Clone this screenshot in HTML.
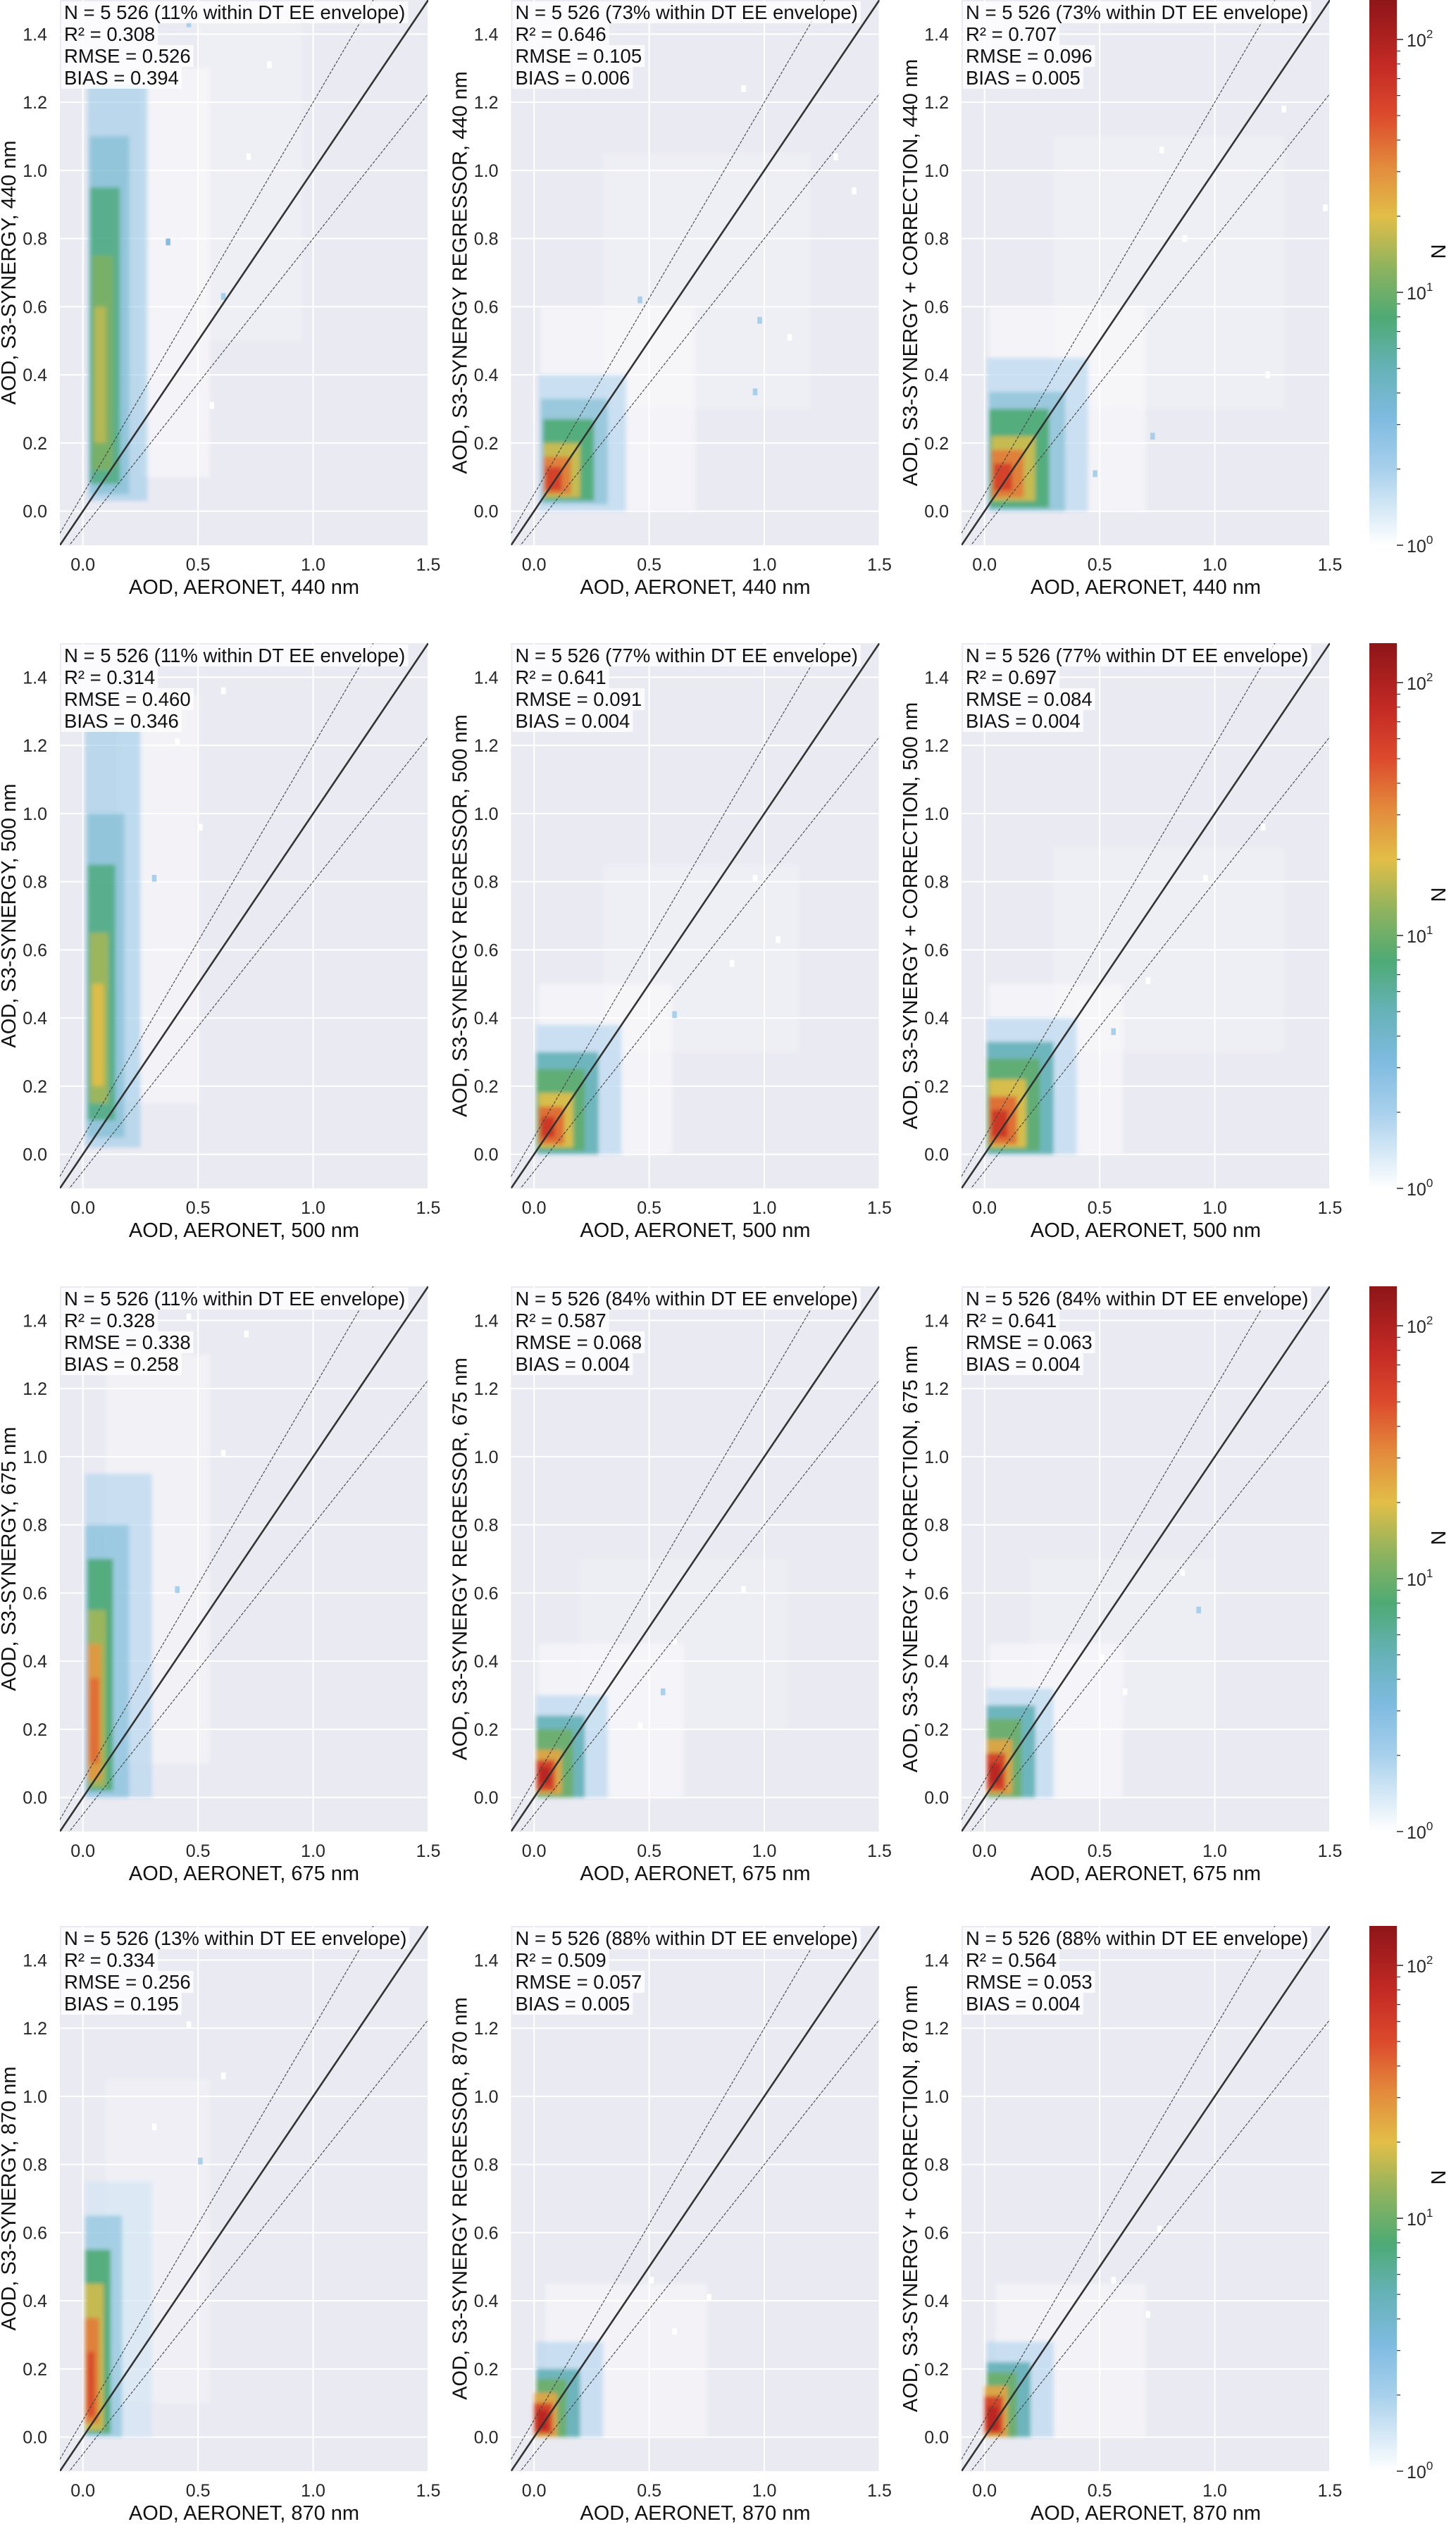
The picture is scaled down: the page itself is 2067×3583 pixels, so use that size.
<!DOCTYPE html>
<html><head><meta charset="utf-8"><style>
html,body{margin:0;padding:0;background:#fff;}
svg{display:block;font-family:"Liberation Sans",Arial,sans-serif;}
</style></head>
<body>
<svg id="fig" width="2067" height="3583" viewBox="0 0 2067 3583" xmlns="http://www.w3.org/2000/svg"></svg>
<script>
// ---------- data ----------
const wavelengths = ["440", "500", "675", "870"];
const yLabelPrefixes = ["AOD, S3-SYNERGY", "AOD, S3-SYNERGY REGRESSOR", "AOD, S3-SYNERGY + CORRECTION"];
const xTicks = [0.0, 0.5, 1.0, 1.5];
const yTicks = [0.0, 0.2, 0.4, 0.6, 0.8, 1.0, 1.2, 1.4];
const cbarMajor = [1, 10, 100];
const cbarMajorLabels = ["0", "1", "2"];
const envPct = [["11%","73%","73%"],["11%","77%","77%"],["11%","84%","84%"],["13%","88%","88%"]];
const r2Vals = [["0.308","0.646","0.707"],["0.314","0.641","0.697"],["0.328","0.587","0.641"],["0.334","0.509","0.564"]];
const rmseVals = [["0.526","0.105","0.096"],["0.460","0.091","0.084"],["0.338","0.068","0.063"],["0.256","0.057","0.053"]];
const biasVals = [["0.394","0.006","0.005"],["0.346","0.004","0.004"],["0.258","0.004","0.004"],["0.195","0.005","0.004"]];
// density regions per panel: [x0, x1, y0, y1, count]
const regions = [
 [
  [[0.25,0.55,0.1,1.3,0.35],[0.5,0.95,0.5,1.45,0.15],[0.02,0.28,0.03,1.25,2.5],[0.03,0.2,0.05,1.1,4],[0.03,0.16,0.08,0.95,7],[0.04,0.13,0.12,0.75,11],[0.05,0.1,0.2,0.6,16]],
  [[0.3,1.2,0.3,1.05,0.15],[0.03,0.7,0.0,0.6,0.35],[0.02,0.4,0.0,0.4,2],[0.03,0.32,0.02,0.33,4],[0.04,0.26,0.03,0.27,8],[0.04,0.2,0.04,0.2,18],[0.04,0.16,0.05,0.16,35],[0.05,0.12,0.06,0.13,60]],
  [[0.3,1.3,0.3,1.1,0.15],[0.02,0.7,0.0,0.6,0.35],[0.01,0.45,0.0,0.45,2],[0.02,0.35,0.0,0.35,4],[0.02,0.28,0.01,0.3,8],[0.03,0.22,0.03,0.22,18],[0.03,0.17,0.04,0.18,35],[0.04,0.12,0.06,0.14,60]]
 ],
 [
  [[0.15,0.5,0.15,1.35,0.3],[0.01,0.25,0.02,1.25,2.5],[0.02,0.18,0.05,1.0,4],[0.02,0.14,0.1,0.85,7],[0.03,0.11,0.15,0.65,14],[0.04,0.09,0.2,0.5,20]],
  [[0.3,1.15,0.3,0.85,0.15],[0.02,0.6,0.0,0.5,0.35],[0.01,0.38,0.0,0.38,2],[0.01,0.28,0.0,0.3,5],[0.01,0.22,0.01,0.25,9],[0.02,0.17,0.02,0.18,20],[0.02,0.13,0.03,0.14,40],[0.03,0.09,0.05,0.11,70]],
  [[0.3,1.3,0.3,0.9,0.15],[0.02,0.6,0.0,0.5,0.35],[0.01,0.4,0.0,0.4,2],[0.01,0.3,0.0,0.33,5],[0.01,0.24,0.01,0.28,9],[0.02,0.18,0.02,0.22,20],[0.02,0.14,0.03,0.17,40],[0.03,0.1,0.05,0.13,70]]
 ],
 [
  [[0.1,0.55,0.1,1.3,0.25],[0.01,0.3,0.0,0.95,2],[0.01,0.2,0.0,0.8,3.5],[0.02,0.13,0.02,0.7,8],[0.02,0.1,0.03,0.55,14],[0.02,0.08,0.05,0.45,28],[0.03,0.07,0.1,0.35,40]],
  [[0.2,1.1,0.2,0.7,0.12],[0.02,0.65,0.0,0.45,0.35],[0.01,0.32,0.0,0.3,2],[0.01,0.22,0.0,0.24,5],[0.01,0.17,0.0,0.2,10],[0.01,0.12,0.01,0.14,25],[0.01,0.09,0.02,0.11,60],[0.02,0.07,0.04,0.09,90]],
  [[0.2,1.0,0.2,0.7,0.12],[0.02,0.6,0.0,0.45,0.35],[0.01,0.3,0.0,0.32,2],[0.01,0.22,0.0,0.27,5],[0.01,0.16,0.0,0.23,10],[0.01,0.12,0.01,0.17,25],[0.01,0.09,0.02,0.13,60],[0.02,0.07,0.04,0.1,90]]
 ],
 [
  [[0.1,0.55,0.1,1.05,0.2],[0.01,0.3,0.0,0.75,1.5],[0.01,0.17,0.0,0.65,3.5],[0.01,0.12,0.01,0.55,8],[0.01,0.09,0.02,0.45,18],[0.01,0.07,0.04,0.35,35],[0.02,0.05,0.06,0.25,55]],
  [[0.05,0.75,0.0,0.45,0.3],[0.01,0.3,0.0,0.28,2],[0.01,0.2,0.0,0.2,5],[0.01,0.14,0.0,0.17,10],[0.0,0.1,0.0,0.13,25],[0.0,0.08,0.01,0.1,60],[0.01,0.06,0.02,0.08,90]],
  [[0.05,0.7,0.0,0.45,0.3],[0.01,0.3,0.0,0.28,2],[0.01,0.2,0.0,0.22,5],[0.01,0.14,0.0,0.19,10],[0.0,0.1,0.0,0.15,25],[0.0,0.08,0.01,0.12,60],[0.01,0.06,0.02,0.09,90]]
 ]
];
// sparse single bins per panel: [x, y, count]
const sparse = [
 [[[0.45,1.42,2],[0.62,1.45,1],[0.8,1.3,1],[0.36,0.78,3],[0.6,0.62,2],[0.55,0.3,1],[0.71,1.03,1]],
  [[0.9,1.23,1],[1.3,1.03,1],[0.45,0.61,2],[0.97,0.55,2],[1.1,0.5,1],[0.95,0.34,2],[1.38,0.93,1]],
  [[0.76,1.05,1],[1.29,1.17,1],[0.86,0.79,1],[0.47,0.1,2],[0.72,0.21,2],[1.22,0.39,1],[1.47,0.88,1]]],
 [[[0.4,1.2,1],[0.6,1.35,1],[0.3,0.8,2],[0.5,0.95,1]],
  [[0.95,0.8,1],[1.05,0.62,1],[0.6,0.4,2],[0.85,0.55,1]],
  [[1.2,0.95,1],[0.95,0.8,1],[0.7,0.5,1],[0.55,0.35,2]]],
 [[[0.45,1.4,1],[0.7,1.35,1],[0.4,0.6,2],[0.6,1.0,1]],
  [[0.9,0.6,1],[0.6,0.45,1],[0.55,0.3,2],[0.45,0.2,1]],
  [[0.92,0.54,2],[0.85,0.65,1],[0.5,0.4,1],[0.6,0.3,1]]],
 [[[0.45,1.2,1],[0.6,1.05,1],[0.5,0.8,2],[0.3,0.9,1]],
  [[0.75,0.4,1],[0.6,0.3,1],[0.5,0.45,1]],
  [[0.75,0.6,1],[0.55,0.45,1],[0.7,0.35,1]]]
];
</script>
<script>
const NS = "http://www.w3.org/2000/svg";
const svg = document.getElementById("fig");
function mk(tag, attrs, parent) {
  const e = document.createElementNS(NS, tag);
  for (const k in attrs) e.setAttribute(k, attrs[k]);
  (parent || svg).appendChild(e);
  return e;
}
const colLefts = [85, 725.5, 1365];
const rowTops = [0, 913, 1826, 2734];
const PW = 523, PH = 774;
const XMIN = -0.1, XMAX = 1.5, YMIN = -0.1, YMAX = 1.5;
const CMAX = 2.156;
const stops = [[0,[255,255,255]],[0.3,[168,208,236]],[0.5,[127,187,224]],[0.7,[102,178,184]],[0.9,[78,170,117]],[1.1,[143,179,94]],[1.3,[226,190,72]],[1.5,[227,138,60]],[1.7,[220,74,44]],[1.9,[195,42,36]],[2.156,[142,21,24]]];
function cmap(c) {
  let t = Math.log10(Math.max(c, 1));
  if (t <= 0) return "rgb(255,255,255)";
  for (let i = 1; i < stops.length; i++) {
    if (t <= stops[i][0]) {
      const a = stops[i-1], b = stops[i], f = (t - a[0]) / (b[0] - a[0]);
      const rgb = a[1].map((v, j) => Math.round(v + (b[1][j] - v) * f));
      return "rgb(" + rgb.join(",") + ")";
    }
  }
  return "rgb(142,21,24)";
}
const defs = mk("defs", {});
const blur = mk("filter", {id:"soft", x:"-10%", y:"-10%", width:"120%", height:"120%"}, defs);
mk("feGaussianBlur", {stdDeviation:3}, blur);
for (let r = 0; r < 4; r++) {
  for (let c = 0; c < 3; c++) {
    const L = colLefts[c], T = rowTops[r];
    const sx = v => L + (v - XMIN) / (XMAX - XMIN) * PW;
    const sy = v => T + PH - (v - YMIN) / (YMAX - YMIN) * PH;
    const g = mk("g", {});
    
    
    const bg = mk("rect", {x:L, y:T, width:PW, height:PH, fill:"#eaeaf2"}, g);
    
    
    const cp = mk("clipPath", {id:"cp"+r+c}, defs);
    mk("rect", {x:L, y:T, width:PW, height:PH}, cp);
    xTicks.forEach(v => {
      const gl = mk("line", {x1:sx(v), x2:sx(v), y1:T, y2:T+PH, stroke:"#fff", "stroke-width":2}, g);
      
      
      const tl = mk("text", {x:sx(v), y:T+PH+36, "font-size":25, fill:"#262626", "text-anchor":"middle"}, g);
      tl.textContent = v.toFixed(1);
      
      
    });
    yTicks.forEach(v => {
      const gl = mk("line", {x1:L, x2:L+PW, y1:sy(v), y2:sy(v), stroke:"#fff", "stroke-width":2}, g);
      
      
      const tl = mk("text", {x:L-18, y:sy(v)+9, "font-size":25, fill:"#262626", "text-anchor":"end"}, g);
      tl.textContent = v.toFixed(1);
      
      
    });
    const hc = mk("g", {"clip-path":"url(#cp"+r+c+")"}, g);
    const hg = mk("g", {filter:"url(#soft)"}, hc);
    
    
    regions[r][c].forEach(d => {
      const cnt = d[4];
      let op = cnt < 1 ? cnt * 1.3 : (cnt < 5 ? 0.55 : 0.92);
      const rc = mk("rect", {x:sx(d[0]), y:sy(d[3]), width:sx(d[1])-sx(d[0]), height:sy(d[2])-sy(d[3]),
        fill: cnt < 1 ? "#ffffff" : cmap(cnt), "fill-opacity": op}, hg);
      
      
    });
    sparse[r][c].forEach(d => {
      const rc = mk("rect", {x:sx(d[0]), y:sy(d[1]+0.02), width:sx(0.02)-sx(0), height:sy(0)-sy(0.02), fill:cmap(d[2])}, hc);
      
      
    });
    const lg = mk("g", {"clip-path":"url(#cp"+r+c+")"}, g);
    const one = mk("line", {x1:sx(-0.1), y1:sy(-0.1), x2:sx(1.5), y2:sy(1.5), stroke:"#333", "stroke-width":2.6}, lg);
    
    
    const up = mk("line", {x1:sx(-0.1), y1:sy(1.15*-0.1+0.05), x2:sx(1.5), y2:sy(1.15*1.5+0.05), stroke:"#444", "stroke-width":1.1, "stroke-dasharray":"4,2"}, lg);
    
    
    const lo = mk("line", {x1:sx(-0.1), y1:sy(0.85*-0.1-0.05), x2:sx(1.5), y2:sy(0.85*1.5-0.05), stroke:"#444", "stroke-width":1.1, "stroke-dasharray":"4,2"}, lg);
    
    
    const lines = ["N = 5 526 (" + envPct[r][c] + " within DT EE envelope)", "R\u00b2 = " + r2Vals[r][c], "RMSE = " + rmseVals[r][c], "BIAS = " + biasVals[r][c]];
    const names = ['stats-n-envelope', 'stats-r2', 'stats-rmse', 'stats-bias'];
    lines.forEach((s, i) => {
      const by = T + 27 + i * 31;
      const box = mk("rect", {x:L+2, y:by-25, width:100, height:31, fill:"#fff", "fill-opacity":0.8}, g);
      
      
      const t = mk("text", {x:L+6, y:by, "font-size":27.5, fill:"#111"}, g);
      t.textContent = s;
      
      
      box.setAttribute("width", t.getComputedTextLength() + 8);
    });
    const xl = mk("text", {x:L+PW/2, y:T+PH+69, "font-size":29, fill:"#111", "text-anchor":"middle"}, g);
    xl.textContent = "AOD, AERONET, " + wavelengths[r] + " nm";
    
    
    const ycx = L - 63, ycy = T + PH/2;
    const yl = mk("text", {x:ycx, y:ycy, "font-size":29, fill:"#111", "text-anchor":"middle", transform:"rotate(-90 "+ycx+" "+ycy+")"}, g);
    yl.textContent = yLabelPrefixes[c] + ", " + wavelengths[r] + " nm";
    
    
  }
  const T = rowTops[r], CX = 1944, CW = 39;
  const cg = mk("g", {});
  
  
  const grad = mk("linearGradient", {id:"cb"+r, x1:0, y1:1, x2:0, y2:0}, defs);
  stops.forEach(s => mk("stop", {offset:(s[0]/CMAX), "stop-color":"rgb("+s[1].join(",")+")"}, grad));
  const cbr = mk("rect", {x:CX, y:T, width:CW, height:PH, fill:"url(#cb"+r+")"}, cg);
  
  
  const cy = v => T + PH - Math.log10(v) / CMAX * PH;
  for (let dec = 0; dec < 3; dec++) {
    for (let m = 1; m < 10; m++) {
      const v = m * Math.pow(10, dec);
      if (Math.log10(v) > CMAX) continue;
      const tk = mk("line", {x1:CX+CW, x2:CX+CW+(m===1?9:5), y1:cy(v), y2:cy(v), stroke:"#333", "stroke-width":m===1?1.6:1.2}, cg);
      
      
    }
  }
  cbarMajor.forEach((v, i) => {
    const t = mk("text", {x:CX+CW+14, y:cy(v)+10, "font-size":25, fill:"#262626"}, cg);
    t.textContent = "10";
    const sup = mk("tspan", {dy:-12, "font-size":17}, t);
    sup.textContent = cbarMajorLabels[i];
    
    
  });
  const nx = 2052, ny = T + PH/2 - 30;
  const nl = mk("text", {x:nx, y:ny, "font-size":29, fill:"#111", "text-anchor":"middle", transform:"rotate(-90 "+nx+" "+ny+")"}, cg);
  nl.textContent = "N";
  
  
}
</script>
</body></html>
